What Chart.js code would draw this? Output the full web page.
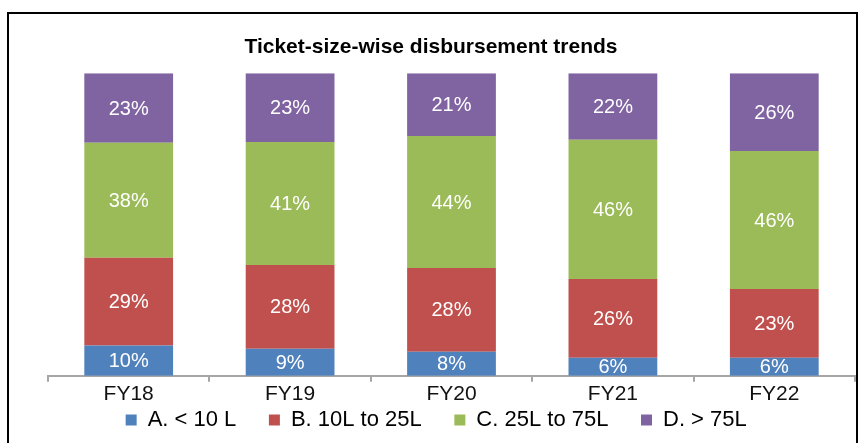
<!DOCTYPE html>
<html>
<head>
<meta charset="utf-8">
<script src="https://cdn.jsdelivr.net/npm/chart.js@4"></script>
<style>
  html, body { margin: 0; padding: 0; background: #fff; overflow: hidden; }
  #wrap { width: 861px; height: 443px; }
</style>
</head>
<body>
<div id="wrap"><canvas id="chart" width="861" height="443"></canvas></div>
<script>
// categories + shares as printed on the bars (%)
var years = ['FY18', 'FY19', 'FY20', 'FY21', 'FY22'];
var belowTen = [10, 9, 8, 6, 6];
var tenTo25 = [29, 28, 28, 26, 23];
var from25To75 = [38, 41, 44, 46, 46];
var above75 = [23, 23, 21, 22, 26];

var seriesNames = ['A. < 10 L', 'B. 10L to 25L', 'C. 25L to 75L', 'D. > 75L'];
var seriesColors = ['#4F81BD', '#C0504D', '#9BBB59', '#8064A2'];

var FONT = '"Liberation Sans", Arial, sans-serif';

// 100% stacked: scale each column so the printed shares fill the bar
function toPercent(series, all) {
    return series.map(function(v, i) {
        var sum = 0;
        all.forEach(function(s) { sum += s[i]; });
        return v * 100 / sum;
    });
}

var allSeries = [belowTen, tenTo25, from25To75, above75];
var datasets = allSeries.map(function(s, k) {
    return {
        label: seriesNames[k],
        data: toPercent(s, allSeries),
        shown: s,
        backgroundColor: seriesColors[k],
        borderWidth: 0
    };
});

const frame = {
    id: 'frame',
    beforeDraw(chart) {
        const ctx = chart.ctx;
        ctx.save();
        ctx.fillStyle = '#fff';
        ctx.fillRect(0, 0, chart.width, chart.height);
        ctx.strokeStyle = '#000';
        ctx.lineWidth = 2;
        ctx.strokeRect(8, 13, 849, 500);
        ctx.restore();
    },
    afterLayout(chart) {
        // title is centred on the whole picture, not on the plot
        if (chart.titleBlock) chart.titleBlock.left = 7;
    }
};

const barText = {
    id: 'barText',
    afterDatasetsDraw(chart) {
        const ctx = chart.ctx;
        ctx.save();
        ctx.font = '20px ' + FONT;
        ctx.fillStyle = '#fff';
        ctx.textAlign = 'center';
        ctx.textBaseline = 'middle';
        chart.data.datasets.forEach(function(ds, k) {
            chart.getDatasetMeta(k).data.forEach(function(bar, i) {
                var mid = (bar.y + bar.base) / 2;
                ctx.fillText(ds.shown[i] + '%', bar.x, mid + 1);
            });
        });
        ctx.restore();
    }
};

var ctx = document.getElementById('chart').getContext('2d');
window.myChart = new Chart(ctx, {
    type: 'bar',
    data: { labels: years, datasets: datasets },
    options: {
        responsive: false,
        animation: false,
        layout: { padding: { top: 0, left: 48, right: 6, bottom: 2 } },
        datasets: { bar: { categoryPercentage: 1, barPercentage: 0.55 } },
        scales: {
            x: {
                stacked: true,
                grid: { display: true, drawOnChartArea: false, drawTicks: true, tickLength: 6, color: '#a6a6a6', lineWidth: 2 },
                border: { display: true, color: '#a6a6a6', width: 2 },
                ticks: { color: '#111', font: { family: FONT, size: 21 }, padding: 0 }
            },
            y: {
                stacked: true,
                display: false,
                min: 0,
                max: 100
            }
        },
        plugins: {
            title: {
                display: true,
                text: 'Ticket-size-wise disbursement trends',
                color: '#000',
                font: { family: FONT, size: 21, weight: 'bold' },
                padding: { top: 35, bottom: 13 }
            },
            legend: {
                position: 'bottom',
                labels: {
                    color: '#000',
                    boxWidth: 11,
                    boxHeight: 11,
                    padding: 2,
                    font: { family: FONT, size: 22 },
                    // small vertical padding, so spread items with trailing spaces
                    generateLabels: function(chart) {
                        var items = Chart.defaults.plugins.legend.labels.generateLabels(chart);
                        items.forEach(function(it) { it.text = it.text + '     '; });
                        return items;
                    }
                }
            },
            tooltip: { enabled: false }
        }
    },
    plugins: [frame, barText]
});
</script>
</body>
</html>
